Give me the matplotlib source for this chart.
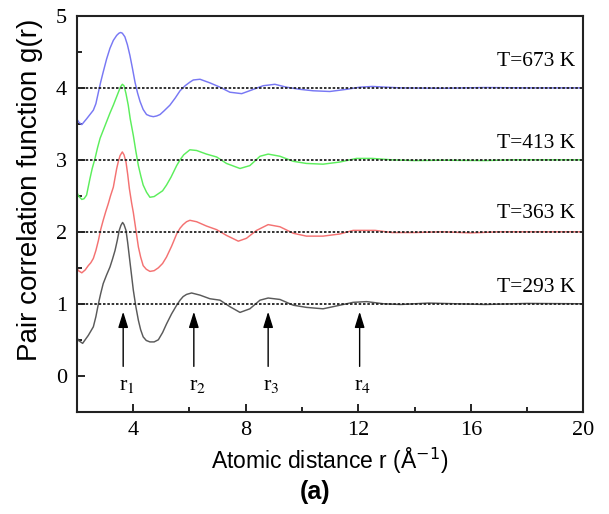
import matplotlib
matplotlib.use('Agg')
import matplotlib.pyplot as plt
from matplotlib.ticker import MultipleLocator

# 数据 (从图中读取的 g(r) 曲线, 已包含纵向偏移)
r_293 = [2.0, 2.06, 2.21, 2.30, 2.41, 2.50, 2.59, 2.68, 2.77, 2.85, 2.94, 3.06, 3.18, 3.27, 3.36, 3.44,
         3.51, 3.57, 3.63, 3.68, 3.75, 3.81, 3.87, 3.94, 4.01, 4.10, 4.19, 4.27, 4.36, 4.47, 4.60, 4.75,
         4.90, 5.05, 5.19, 5.37, 5.55, 5.67, 5.78, 5.90, 6.08, 6.38, 6.73, 7.09, 7.44, 7.80, 8.15, 8.51,
         8.80, 9.22, 9.69, 10.16, 10.75, 11.35, 11.82, 12.3, 12.9, 13.5, 14.5, 15.5, 16.5, 18.0, 20.0]
g_293 = [0.54, 0.49, 0.45, 0.50, 0.56, 0.62, 0.68, 0.82, 1.00, 1.14, 1.28, 1.40, 1.51, 1.62, 1.74, 1.88,
         2.02, 2.09, 2.13, 2.10, 2.02, 1.85, 1.65, 1.42, 1.19, 0.96, 0.77, 0.64, 0.54, 0.49, 0.47, 0.47,
         0.50, 0.60, 0.72, 0.86, 0.98, 1.05, 1.10, 1.13, 1.15, 1.12, 1.07, 1.05, 0.96, 0.88, 0.93, 1.05,
         1.08, 1.06, 0.98, 0.95, 0.93, 0.98, 1.02, 1.03, 1.00, 0.99, 1.01, 1.00, 0.99, 1.005, 1.0]

r_363 = [2.0, 2.06, 2.18, 2.30, 2.41, 2.50, 2.59, 2.68, 2.77, 2.85, 2.94, 3.03, 3.12, 3.20, 3.30, 3.42,
         3.48, 3.54, 3.62, 3.68, 3.75, 3.81, 3.87, 3.95, 4.01, 4.07, 4.13, 4.19, 4.27, 4.36, 4.47, 4.60,
         4.75, 4.90, 5.05, 5.19, 5.37, 5.55, 5.67, 5.78, 5.90, 6.02, 6.26, 6.61, 6.97, 7.32, 7.74, 8.03,
         8.39, 8.80, 9.22, 9.69, 10.16, 10.75, 11.35, 11.82, 12.6, 13.2, 14.0, 15.0, 16.0, 17.0, 20.0]
g_363 = [1.50, 1.46, 1.43, 1.47, 1.53, 1.57, 1.63, 1.74, 1.88, 2.03, 2.16, 2.28, 2.39, 2.50, 2.62, 2.88,
         2.98, 3.06, 3.11, 3.07, 2.97, 2.80, 2.60, 2.40, 2.27, 2.11, 1.95, 1.79, 1.65, 1.53, 1.48, 1.45,
         1.46, 1.50, 1.56, 1.65, 1.80, 1.97, 2.05, 2.10, 2.14, 2.16, 2.14, 2.08, 2.03, 1.95, 1.87, 1.91,
         2.02, 2.10, 2.07, 1.98, 1.94, 1.94, 1.97, 2.02, 2.02, 1.99, 1.99, 2.00, 1.985, 2.00, 2.00]

r_413 = [2.0, 2.08, 2.18, 2.26, 2.35, 2.47, 2.55, 2.65, 2.74, 2.83, 2.95, 3.06, 3.18, 3.30, 3.40, 3.48,
         3.55, 3.62, 3.68, 3.75, 3.83, 3.90, 4.01, 4.10, 4.19, 4.28, 4.36, 4.48, 4.60, 4.75, 4.90, 5.05,
         5.19, 5.35, 5.55, 5.67, 5.80, 6.02, 6.26, 6.61, 6.97, 7.32, 7.80, 8.15, 8.51, 8.80, 9.22, 9.69,
         10.16, 10.75, 11.35, 11.94, 12.5, 13.2, 14.0, 15.0, 16.5, 17.5, 20.0]
g_413 = [2.55, 2.49, 2.45, 2.46, 2.51, 2.74, 2.88, 3.02, 3.17, 3.30, 3.42, 3.53, 3.65, 3.76, 3.86, 3.94,
         4.01, 4.05, 4.03, 3.92, 3.76, 3.57, 3.34, 3.12, 2.92, 2.77, 2.65, 2.55, 2.48, 2.49, 2.53, 2.57,
         2.65, 2.76, 2.92, 3.00, 3.07, 3.14, 3.13, 3.08, 3.04, 2.95, 2.88, 2.92, 3.05, 3.08, 3.05, 2.98,
         2.95, 2.94, 2.97, 3.02, 3.02, 3.00, 2.99, 2.995, 2.99, 3.00, 3.00]

r_673 = [2.0, 2.08, 2.18, 2.35, 2.45, 2.59, 2.68, 2.77, 2.85, 2.94, 3.06, 3.18, 3.30, 3.42, 3.50, 3.56,
         3.62, 3.71, 3.80, 3.89, 3.98, 4.07, 4.16, 4.25, 4.36, 4.48, 4.60, 4.72, 4.84, 4.96, 5.10, 5.31,
         5.50, 5.67, 5.85, 6.02, 6.14, 6.38, 6.73, 7.09, 7.44, 7.86, 8.21, 8.62, 9.04, 9.45, 9.93, 10.40,
         10.99, 11.58, 12.06, 12.5, 13.5, 15.0, 16.5, 18.0, 20.0]
g_673 = [3.57, 3.52, 3.49, 3.57, 3.62, 3.69, 3.78, 3.94, 4.08, 4.22, 4.40, 4.55, 4.66, 4.73, 4.76, 4.77,
         4.76, 4.71, 4.60, 4.45, 4.27, 4.08, 3.93, 3.81, 3.70, 3.63, 3.61, 3.60, 3.61, 3.63, 3.68, 3.76,
         3.86, 3.96, 4.03, 4.08, 4.11, 4.12, 4.07, 4.01, 3.94, 3.92, 3.97, 4.03, 4.05, 4.01, 3.98, 3.96,
         3.95, 3.98, 4.01, 4.02, 4.00, 3.995, 4.005, 4.00, 4.00]

curves = [(r_293, g_293, '#5a5a5a'), (r_363, g_363, '#f47272'),
          (r_413, g_413, '#5cee5c'), (r_673, g_673, '#7878f4')]
baselines = [1, 2, 3, 4]
temp_labels = ['T=293 K', 'T=363 K', 'T=413 K', 'T=673 K']
temp_label_y = [1.23, 2.25, 3.23, 4.36]

peak_pos = [3.65, 6.16, 8.80, 12.05]
peak_names = ['1', '2', '3', '4']

fig = plt.figure(figsize=(6.09, 5.14), dpi=100)
ax = fig.add_axes([0.126, 0.199, 0.832, 0.770])

for r, g, c in curves:
    ax.plot(r, g, color=c, lw=1.05, zorder=2, solid_joinstyle='round')

for b in baselines:
    ax.axhline(b, color='#222222', lw=1.3, ls=(0, (1.4, 1.0)), zorder=3)

for lab, y in zip(temp_labels, temp_label_y):
    ax.text(19.7, y, lab, ha='right', va='center', fontsize=15.5, family='Liberation Serif')

for x, n in zip(peak_pos, peak_names):
    ax.annotate('', xy=(x, 0.89), xytext=(x, 0.13),
                arrowprops=dict(arrowstyle='-|>,head_length=0.8,head_width=0.25', color='black',
                                lw=1.0, mutation_scale=12, shrinkA=0, shrinkB=0))
    ax.text(x + 0.12, -0.13, 'r$_{' + n + '}$', ha='center', va='center', fontsize=16,
            family='Liberation Serif', math_fontfamily='stix')

ax.set_xlim(2, 20)
ax.set_ylim(-0.5, 5)
ax.xaxis.set_major_locator(MultipleLocator(4))
ax.xaxis.set_minor_locator(MultipleLocator(2))
ax.yaxis.set_major_locator(MultipleLocator(1))
ax.yaxis.set_minor_locator(MultipleLocator(0.5))
ax.tick_params(which='both', direction='in', top=False, right=False, width=1.2, pad=7)
ax.tick_params(which='major', length=6)
ax.tick_params(which='minor', length=3.5)
for lbl in ax.get_xticklabels() + ax.get_yticklabels():
    lbl.set_fontfamily('Liberation Serif')
    lbl.set_fontsize(16)
for s in ax.spines.values():
    s.set_linewidth(1.5)
    s.set_color('#222222')

ax.set_xlabel('Atomic distance r (Å$^{\\mathsf{-1}}$)', fontsize=16.5, family='Liberation Sans',
              labelpad=4)
ax.set_ylabel('Pair correlation function g(r)', fontsize=20, family='Liberation Sans')
ax.yaxis.set_label_coords(-0.066, 0.56)
fig.text(0.517, 0.043, '(a)', ha='center', va='center', fontsize=18, fontweight='bold',
         family='Liberation Sans')

fig.savefig('out.png', dpi=100)
